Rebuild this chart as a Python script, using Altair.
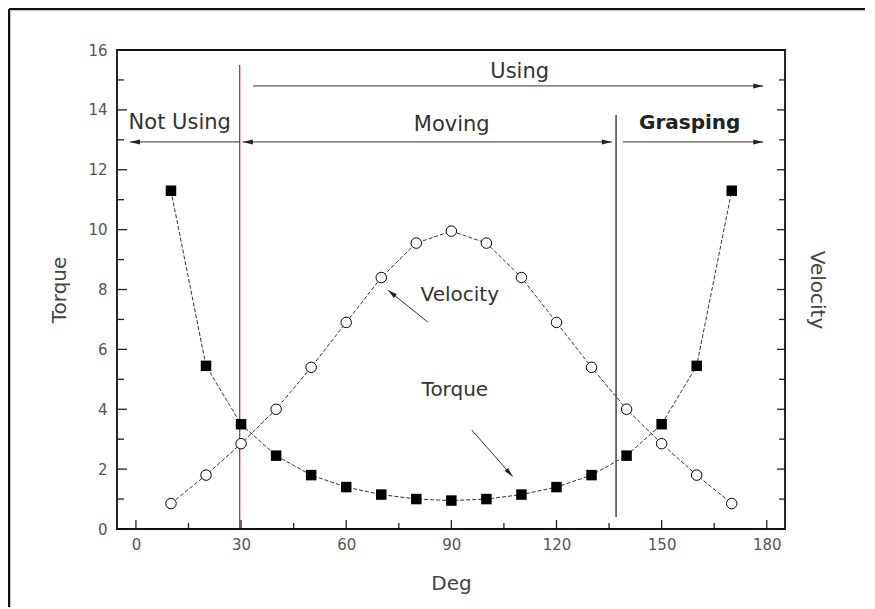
import altair as alt
import pandas as pd

# ---- data ----
deg = [10, 20, 30, 40, 50, 60, 70, 80, 90, 100, 110, 120, 130, 140, 150, 160, 170]
torque = [11.3, 5.45, 3.5, 2.45, 1.8, 1.4, 1.15, 1.0, 0.95, 1.0, 1.15, 1.4, 1.8, 2.45, 3.5, 5.45, 11.3]
velocity = [0.85, 1.8, 2.85, 4.0, 5.4, 6.9, 8.4, 9.55, 9.95, 9.55, 8.4, 6.9, 5.4, 4.0, 2.85, 1.8, 0.85]

x_major = [0, 30, 60, 90, 120, 150, 180]
x_minor = [15, 45, 75, 105, 135, 165]
y_major = [0, 2, 4, 6, 8, 10, 12, 14, 16]
y_minor = [1, 3, 5, 7, 9, 11, 13, 15]

# phase boundary lines
red_line = {"x": [29.6], "y": [0.0], "y2": [15.5]}
grey_line = {"x": [137.0], "y": [0.4], "y2": [13.83]}

# horizontal phase arrows: start, end, level
arrow_x1 = [33.4, -1.7, 30.5, 138.9]
arrow_x2 = [179.0, 29.6, 135.8, 179.0]
arrow_y = [14.8, 12.93, 12.93, 12.93]
# arrowheads (tip positions) and direction
head_x = [179.0, -1.7, 30.5, 135.8, 179.0]
head_y = [14.8, 12.93, 12.93, 12.93, 12.93]
head_dir = [0, 180, 180, 0, 0]

# phase labels
phase_text = ["Using", "Not Using", "Moving"]
phase_x = [109.5, 12.5, 90.1]
phase_y = [15.26, 13.56, 13.5]
bold_text = ["Grasping"]
bold_x = [158.0]
bold_y = [13.56]

# curve labels and their pointer arrows
curve_text = ["Velocity", "Torque"]
curve_x = [92.4, 91.0]
curve_y = [7.82, 4.64]
ptr_x1 = [83.3, 95.8]
ptr_y1 = [6.91, 3.31]
ptr_x2 = [71.9, 107.5]
ptr_y2 = [7.98, 1.75]
ptr_dir = [218.7, 48.5]

W, H = 668, 479
FONT = "DejaVu Sans"

xs = alt.Scale(domain=[-5.4, 185.2], nice=False, zero=False)
ys = alt.Scale(domain=[0, 16], nice=False, zero=False)

curves = pd.DataFrame({"deg": deg, "torque": torque, "velocity": velocity})

X = lambda f="deg": alt.X(f"{f}:Q", scale=xs, axis=None)
Y = lambda f: alt.Y(f"{f}:Q", scale=ys, axis=None)

base = alt.Chart(curves)
t_line = base.mark_line(color="#333", strokeWidth=1, strokeDash=[4, 2]).encode(x=X(), y=Y("torque"))
v_line = base.mark_line(color="#333", strokeWidth=1, strokeDash=[4, 2]).encode(x=X(), y=Y("velocity"))
t_pts = base.mark_point(shape="square", filled=True, color="black", size=110, opacity=1).encode(x=X(), y=Y("torque"))
v_pts = base.mark_point(shape="circle", filled=True, fill="white", stroke="black", strokeWidth=1, size=110, opacity=1).encode(x=X(), y=Y("velocity"))

red = alt.Chart(pd.DataFrame(red_line)).mark_rule(color="#b8324f", strokeWidth=1.3).encode(
    x=X("x"), y=Y("y"), y2="y2")
grey = alt.Chart(pd.DataFrame(grey_line)).mark_rule(color="#444", strokeWidth=1.5).encode(
    x=X("x"), y=Y("y"), y2="y2")

arr = alt.Chart(pd.DataFrame({"x1": arrow_x1, "x2": arrow_x2, "y": arrow_y})).mark_rule(
    color="#333", strokeWidth=1).encode(x=X("x1"), x2="x2", y=Y("y"))
head_path = "M0,0L-2,-0.5L-2,0.5Z"
heads = alt.Chart(pd.DataFrame({"x": head_x, "y": head_y, "a": head_dir})).mark_point(
    shape=head_path, filled=True, color="#222", size=100, opacity=1).encode(
    x=X("x"), y=Y("y"), angle=alt.Angle("a:Q", scale=None))

ptr = alt.Chart(pd.DataFrame({"x1": ptr_x1, "y1": ptr_y1, "x2": ptr_x2, "y2": ptr_y2})).mark_rule(
    color="#333", strokeWidth=1).encode(x=X("x1"), y=Y("y1"), x2="x2", y2="y2")
ptr_heads = alt.Chart(pd.DataFrame({"x": ptr_x2, "y": ptr_y2, "a": ptr_dir})).mark_point(
    shape=head_path, filled=True, color="#222", size=90, opacity=1).encode(
    x=X("x"), y=Y("y"), angle=alt.Angle("a:Q", scale=None))

ptext = alt.Chart(pd.DataFrame({"t": phase_text, "x": phase_x, "y": phase_y})).mark_text(
    font=FONT, fontSize=21, color="#333").encode(x=X("x"), y=Y("y"), text="t:N")
btext = alt.Chart(pd.DataFrame({"t": bold_text, "x": bold_x, "y": bold_y})).mark_text(
    font=FONT, fontSize=20, fontWeight="bold", color="#222").encode(x=X("x"), y=Y("y"), text="t:N")
ctext = alt.Chart(pd.DataFrame({"t": curve_text, "x": curve_x, "y": curve_y})).mark_text(
    font=FONT, fontSize=20, color="#333").encode(x=X("x"), y=Y("y"), text="t:N")

axis_style = dict(labelFont=FONT, labelFontSize=15, labelColor="#555", titleFont=FONT,
                  titleFontSize=20, titleFontWeight="normal", titleColor="#444",
                  ticks=False, domain=False, grid=False)

# inward ticks
xmaj = alt.Chart(pd.DataFrame({"v": x_major})).mark_rule(color="#222", strokeWidth=1.3).encode(
    x=alt.X("v:Q", scale=xs, axis=alt.Axis(values=x_major, title="Deg", labelPadding=8,
                                          titlePadding=21, **axis_style)),
    y=alt.value(H), y2=alt.value(H - 9))
xmin = alt.Chart(pd.DataFrame({"v": x_minor})).mark_rule(color="#222", strokeWidth=1.3).encode(
    x=alt.X("v:Q", scale=xs, axis=None), y=alt.value(H), y2=alt.value(H - 6))
ylmaj = alt.Chart(pd.DataFrame({"v": y_major})).mark_rule(color="#222", strokeWidth=1.3).encode(
    y=alt.Y("v:Q", scale=ys, axis=alt.Axis(values=y_major, title="Torque", labelPadding=10,
                                          titlePadding=18, **axis_style)),
    x=alt.value(0), x2=alt.value(10))
ylmin = alt.Chart(pd.DataFrame({"v": y_minor})).mark_rule(color="#222", strokeWidth=1.3).encode(
    y=alt.Y("v:Q", scale=ys, axis=None), x=alt.value(0), x2=alt.value(7))
yrmaj = alt.Chart(pd.DataFrame({"v": y_major})).mark_rule(color="#222", strokeWidth=1.3).encode(
    y=alt.Y("v:Q", scale=ys, axis=alt.Axis(orient="right", title="Velocity", labels=False,
                                          titlePadding=21, **axis_style)),
    x=alt.value(W), x2=alt.value(W - 8))
yrmin = alt.Chart(pd.DataFrame({"v": y_minor})).mark_rule(color="#222", strokeWidth=1.3).encode(
    y=alt.Y("v:Q", scale=ys, axis=None), x=alt.value(W), x2=alt.value(W - 6))

# plot box
box = alt.Chart(pd.DataFrame({"v": [0]})).mark_rect(fill=None, stroke="#111", strokeWidth=1.8).encode(
    x=alt.value(0), x2=alt.value(W), y=alt.value(0), y2=alt.value(H))

# outer frame
frame_top = alt.Chart(pd.DataFrame({"v": [0]})).mark_rule(color="#111", strokeWidth=2.5).encode(
    x=alt.value(-108), x2=alt.value(W + 90), y=alt.value(-41))
frame_left = alt.Chart(pd.DataFrame({"v": [0]})).mark_rule(color="#111", strokeWidth=2.5).encode(
    x=alt.value(-108), y=alt.value(-41), y2=alt.value(H + 90))

chart = alt.layer(
    frame_top, frame_left,
    t_line, v_line, red, grey, arr, heads, ptr, ptr_heads,
    t_pts, v_pts, ptext, btext, ctext,
    xmaj, xmin, ylmaj, ylmin, yrmaj, yrmin, box,
).resolve_axis(x="independent", y="independent").properties(
    width=W, height=H,
    autosize=alt.AutoSizeParams(type="none"),
    padding={"left": 109, "top": 42, "right": 80, "bottom": 78},
).configure_view(stroke=None).configure(background="white")

chart.save("out.html", embed_options={"renderer": "svg", "actions": False})
